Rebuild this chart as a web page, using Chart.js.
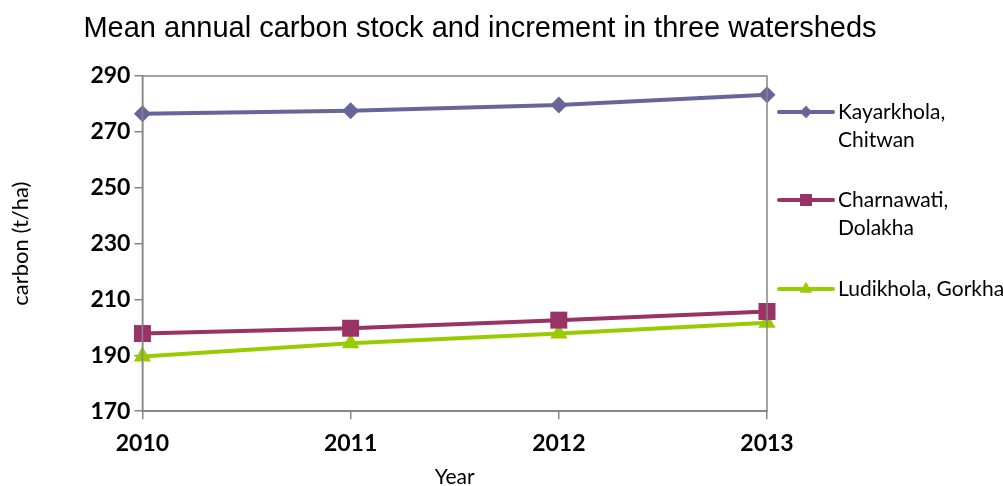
<!DOCTYPE html>
<html>
<head>
<meta charset="utf-8">
<script src="https://cdn.jsdelivr.net/npm/chart.js@4/dist/chart.umd.min.js"></script>
<style>
  html, body { margin: 0; padding: 0; background: #fff; }
  #wrap { width: 1003px; height: 486px; position: relative; }
</style>
</head>
<body>
<div id="wrap"><canvas id="myChart"></canvas></div>
<script>
'use strict';

// data
const years = ['2010', '2011', '2012', '2013'];
const kayarkhola = [276.5, 277.6, 279.6, 283.3];
const charnawati = [197.8, 199.7, 202.6, 205.7];
const ludikhola = [189.6, 194.3, 197.8, 201.7];
const seriesNames = [['Kayarkhola,', 'Chitwan'], ['Charnawati,', 'Dolakha'], ['Ludikhola, Gorkha']];
const yTicks = [170, 190, 210, 230, 250, 270, 290];
const chartTitle = 'Mean annual carbon stock and increment in three watersheds';

const colors = {
  kay: 'rgb(102,102,154)',
  cha: 'rgb(153,51,102)',
  lud: 'rgb(153,204,0)',
  axis: 'rgb(134,134,134)'
};

// title, centred a bit left of the page middle like the original
const topTitle = {
  id: 'topTitle',
  afterDraw(chart){
    const ctx = chart.ctx;
    ctx.save();
    ctx.fillStyle = '#000';
    ctx.font = '29px "Liberation Sans"';
    ctx.textAlign = 'center';
    ctx.textBaseline = 'middle';
    ctx.fillText(chartTitle, 480, 29);
    ctx.restore();
  }
};

// box round the plot (top + right edges)
const frame = {
  id: 'frame',
  afterDatasetsDraw(chart){
    const a = chart.chartArea, ctx = chart.ctx;
    ctx.save();
    ctx.strokeStyle = colors.axis;
    ctx.lineWidth = 1.5;
    ctx.strokeRect(a.left, a.top, a.right - a.left, a.bottom - a.top);
    ctx.restore();
  }
};

// legend on the right with wrapped names
const sideLegend = {
  id: 'sideLegend',
  afterDraw(chart){
    const ctx = chart.ctx;
    const x0 = chart.chartArea.right + 12;
    const rows = [112, 200, 289];
    ctx.save();
    chart.data.datasets.forEach((ds, i) => {
      const y = rows[i];
      ctx.strokeStyle = ds.borderColor;
      ctx.lineWidth = 4;
      ctx.lineCap = 'round';
      ctx.beginPath();
      ctx.moveTo(x0, y);
      ctx.lineTo(x0 + 54, y);
      ctx.stroke();
      ctx.fillStyle = ds.borderColor;
      ctx.beginPath();
      Chart.helpers.drawPoint(ctx, {
        pointStyle: ds.pointStyle, radius: ds.pointRadius * 0.7, borderWidth: 0
      }, x0 + 27, y);
      ctx.fill();
      ctx.fillStyle = '#000';
      ctx.font = '21px Lato';
      ctx.textBaseline = 'middle';
      seriesNames[i].forEach((line, j) => {
        ctx.fillText(line, x0 + 59, y + j * 28);
      });
    });
    ctx.restore();
  }
};

const ctx = document.getElementById('myChart');
new Chart(ctx, {
  type: 'line',
  data: {
    labels: years,
    datasets: [
      { label: 'Kayarkhola, Chitwan', data: kayarkhola, borderColor: colors.kay, backgroundColor: colors.kay,
        pointStyle: 'rectRot', pointRadius: 8.5 },
      { label: 'Charnawati, Dolakha', data: charnawati, borderColor: colors.cha, backgroundColor: colors.cha,
        pointStyle: 'rect', pointRadius: 12 },
      { label: 'Ludikhola, Gorkha', data: ludikhola, borderColor: colors.lud, backgroundColor: colors.lud,
        pointStyle: 'triangle', pointRadius: 10 }
    ].map(d => Object.assign(d, { borderWidth: 4, pointBorderWidth: 0, tension: 0, clip: false }))
  },
  options: {
    responsive: true,
    maintainAspectRatio: false,
    animation: false,
    layout: { padding: { left: 8, right: 236, top: 76, bottom: 2 } },
    scales: {
      x: {
        type: 'category',
        offset: false,
        grid: { drawOnChartArea: false, drawTicks: true, tickLength: 8, color: colors.axis, lineWidth: 1.5 },
        border: { color: colors.axis, width: 1.5 },
        ticks: { color: '#000', padding: 11, font: { family: 'Lato', size: 23, weight: 'bold' } },
        title: { display: true, text: 'Year', color: '#000', padding: { top: -4, bottom: -6 }, font: { family: 'Lato', size: 21 } }
      },
      y: {
        min: 170, max: 290,
        afterBuildTicks(axis){ axis.ticks = yTicks.map(v => ({ value: v })); },
        grid: { drawOnChartArea: false, drawTicks: true, tickLength: 8, color: colors.axis, lineWidth: 1.5 },
        border: { color: colors.axis, width: 1.5 },
        ticks: { color: '#000', padding: 4, font: { family: 'Lato', size: 23, weight: 'bold' } },
        title: { display: true, text: 'carbon (t/ha)', color: '#000', padding: { top: 0, bottom: 52 }, font: { family: 'Lato', size: 22 } }
      }
    },
    plugins: {
      legend: { display: false },
      tooltip: { enabled: false },
      title: { display: false }
    }
  },
  plugins: [frame, sideLegend, topTitle]
});
</script>
</body>
</html>
